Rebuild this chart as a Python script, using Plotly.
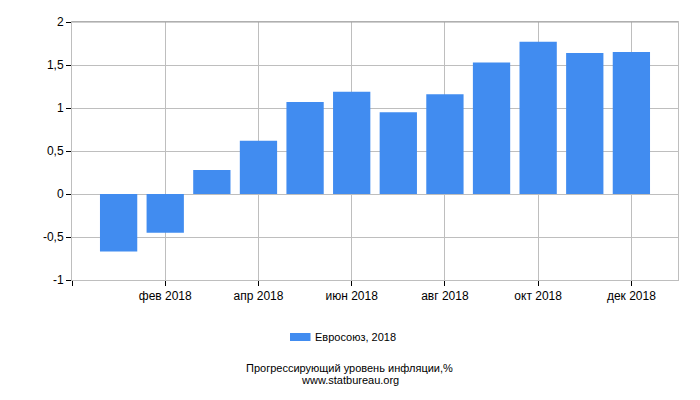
import plotly.graph_objects as go

months = list(range(1, 13))
values = [-0.67, -0.45, 0.28, 0.62, 1.07, 1.19, 0.95, 1.16, 1.53, 1.77, 1.64, 1.65]
series_name = "Евросоюз, 2018"
x_tickvals = [0, 2, 4, 6, 8, 10, 12]
x_ticktext = ["", "фев 2018", "апр 2018", "июн 2018", "авг 2018", "окт 2018", "дек 2018"]
y_tickvals = [-1, -0.5, 0, 0.5, 1, 1.5, 2]
y_ticktext = ["-1", "-0,5", "0", "0,5", "1", "1,5", "2"]
title_lines = ["Прогрессирующий уровень инфляции,%", "www.statbureau.org"]

FONT = "Liberation Sans"
GRID = "#BEBEBE"
BAR = "#418CF0"

fig = go.Figure()
fig.add_trace(go.Bar(
    x=months, y=values, name=series_name,
    marker=dict(color=BAR, line=dict(width=0)),
    width=0.8, showlegend=False,
))

fig.update_layout(
    width=700, height=400,
    margin=dict(l=72, r=22, t=22, b=120),
    paper_bgcolor="white", plot_bgcolor="white",
    font=dict(family=FONT, size=12, color="#000000"),
    xaxis=dict(range=[0, 13], tickvals=x_tickvals, ticktext=x_ticktext,
               showgrid=True, gridcolor=GRID, gridwidth=1,
               showline=True, linecolor=GRID, linewidth=1, mirror=True,
               ticks="outside", ticklen=5, tickcolor="#000000", tickwidth=1,
               zeroline=False, tickfont=dict(size=12)),
    yaxis=dict(range=[-1, 2], tickvals=y_tickvals, ticktext=y_ticktext,
               showgrid=True, gridcolor=GRID, gridwidth=1,
               showline=True, linecolor=GRID, linewidth=1, mirror=True,
               ticks="outside", ticklen=5, tickcolor="#000000", tickwidth=1,
               zeroline=False, tickfont=dict(size=12)),
    shapes=[
        dict(type="line", xref="paper", yref="paper", x0=0, x1=1, y0=1, y1=1,
             line=dict(color="#A0A0A0", width=1)),
        dict(type="rect", xref="paper", yref="paper", x0=0.3597, x1=0.3936,
             y0=-0.2364, y1=-0.2054, fillcolor=BAR, line=dict(width=0)),
    ],
    annotations=[
        dict(text=series_name, xref="paper", yref="paper", x=0.3977, y=-0.2209,
             xanchor="left", yanchor="middle", showarrow=False,
             font=dict(family=FONT, size=11)),
        dict(text=title_lines[0], xref="paper", yref="paper", x=0.4587, y=-0.341,
             xanchor="center", yanchor="middle", showarrow=False,
             font=dict(family=FONT, size=11)),
        dict(text=title_lines[1], xref="paper", yref="paper", x=0.4587, y=-0.3876,
             xanchor="center", yanchor="middle", showarrow=False,
             font=dict(family=FONT, size=11)),
    ],
)

fig.write_html("out.html")
